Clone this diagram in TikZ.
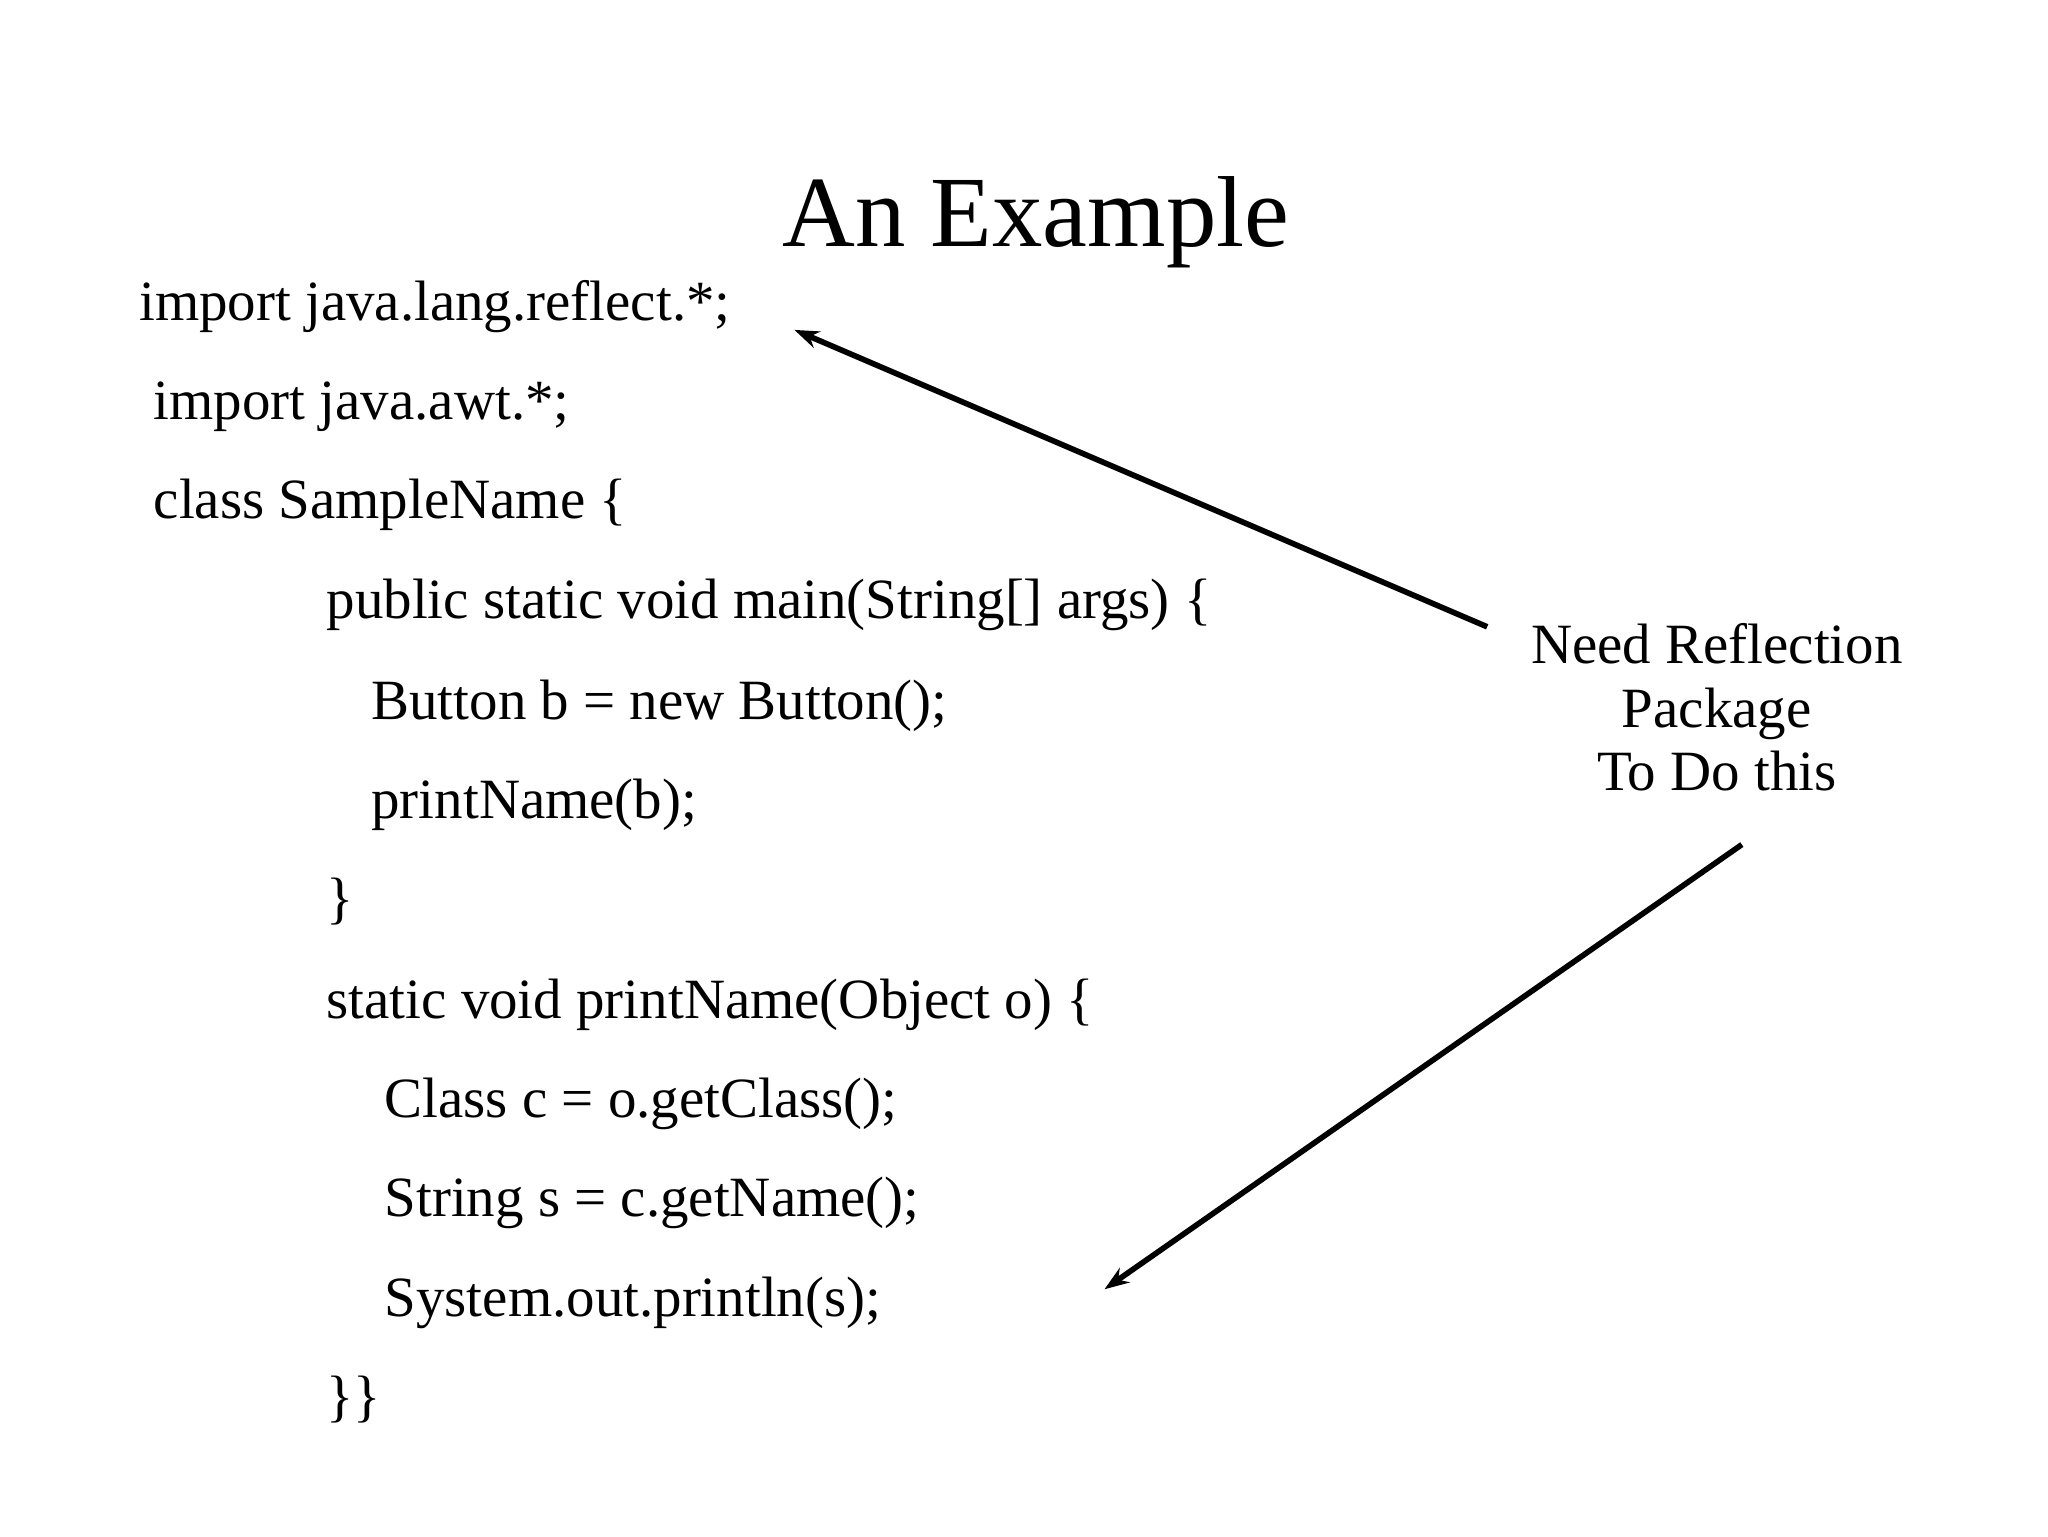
\documentclass[tikz,border=0pt]{standalone}
\usepackage{fontspec}
\setmainfont{Liberation Serif}
\usetikzlibrary{arrows.meta}
\begin{document}
\begin{tikzpicture}[x=0.013196cm,y=-0.013196cm,
  code/.style={anchor=base west,inner sep=0,font=\fontsize{16.2}{19}\selectfont},
  lbl/.style={anchor=base,inner sep=0,font=\fontsize{16.2}{19}\selectfont},
  arr/.style={line width=1.6pt,-{Stealth[length=7pt,width=5pt]}}]
\useasboundingbox (0,0) rectangle (1552,1164);
\node[anchor=base,inner sep=0,font=\fontsize{28.7}{34}\selectfont] (title) at (785,187) {An Example};
\node[code] (l1) at (105,243) {import java.lang.reflect.*;};
\node[code] (l2) at (116,318) {import java.awt.*;};
\node[code] (l3) at (116,393) {class SampleName \{};
\node[code] (l4) at (247,469) {public static void main(String[] args) \{};
\node[code] (l5) at (281,545) {Button b = new Button();};
\node[code] (l6) at (281,620) {printName(b);};
\node[code] (l7) at (247,695) {\}};
\node[code] (l8) at (247,772) {static void printName(Object o) \{};
\node[code] (l9) at (291,847) {Class c = o.getClass();};
\node[code] (l10) at (291,922) {String s = c.getName();};
\node[code] (l11) at (291,998) {System.out.println(s);};
\node[code] (l12) at (247,1073) {\}\}};
\node[lbl] (n1) at (1301,503) {Need Reflection};
\node[lbl] (n2) at (1301,551) {Package};
\node[lbl] (n3) at (1301,599) {To Do this};
\coordinate (a1s) at (1127,475);
\coordinate (a1e) at (602,250);
\coordinate (a2s) at (1320,640);
\coordinate (a2e) at (837,977);
\draw[arr] (a1s) -- (a1e);
\draw[arr] (a2s) -- (a2e);
\end{tikzpicture}
\end{document}
